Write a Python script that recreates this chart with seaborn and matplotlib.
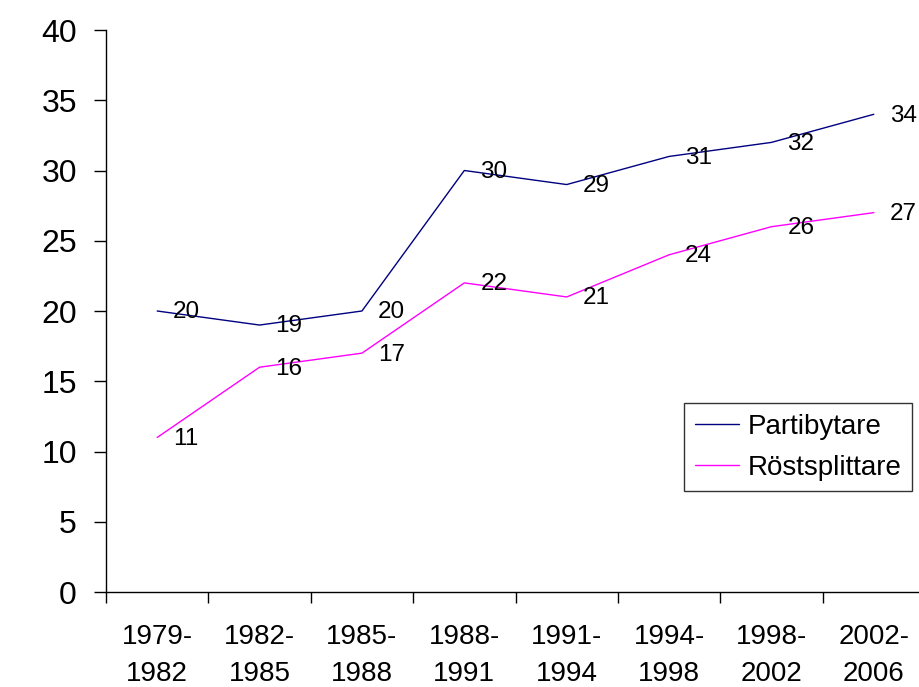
import pandas as pd
import matplotlib
matplotlib.use("Agg")
import matplotlib.pyplot as plt
import seaborn as sns

periods = ["1979-\n1982", "1982-\n1985", "1985-\n1988", "1988-\n1991",
           "1991-\n1994", "1994-\n1998", "1998-\n2002", "2002-\n2006"]
partibytare = [20, 19, 20, 30, 29, 31, 32, 34]
roststplittare = [11, 16, 17, 22, 21, 24, 26, 27]
series_names = ["Partibytare", "Röstsplittare"]
series_colors = ["#000080", "#FF00FF"]

df = pd.DataFrame({
    "idx": list(range(len(periods))) * 2,
    "value": partibytare + roststplittare,
    "serie": [series_names[0]] * len(periods) + [series_names[1]] * len(periods),
})

sns.set_style("white")
plt.rcParams['font.family'] = ['Liberation Sans', 'DejaVu Sans']
plt.rcParams['text.color'] = 'black'
plt.rcParams['xtick.color'] = 'black'
plt.rcParams['ytick.color'] = 'black'
plt.rcParams['xtick.labelcolor'] = 'black'
plt.rcParams['ytick.labelcolor'] = 'black'

fig = plt.figure(figsize=(9.19, 6.87), dpi=100)
ax = fig.add_axes([106 / 919, (687 - 592) / 687, 819 / 919, 562 / 687])

sns.lineplot(data=df, x="idx", y="value", hue="serie",
             palette=dict(zip(series_names, series_colors)),
             linewidth=1.0, ax=ax, legend=False)

# data labels right of each point
for vals in (partibytare, roststplittare):
    for i, v in enumerate(vals):
        ax.annotate(str(v), (i, v), xytext=(11.5, -1), textcoords="offset points",
                    ha="left", va="center", fontsize=17.5, color="black")

ax.set_xlim(-0.5, len(periods) - 0.5)
ax.set_ylim(0, 40)
ax.set_yticks(range(0, 41, 5))
ax.set_xticks(range(len(periods)))
ax.set_xticklabels(periods, linespacing=1.55)
ax.set_xticks([i - 0.5 for i in range(len(periods) + 1)], minor=True)
ax.tick_params(axis="x", which="major", bottom=True, length=0, pad=23, labelsize=20)
ax.tick_params(axis="x", which="minor", bottom=True, length=8, width=1, color="black", direction="out")
ax.tick_params(axis="y", left=True, length=9, width=1, color="black", direction="out", pad=12, labelsize=23)
ax.set_xlabel("")
ax.set_ylabel("")

for s in ("top", "right"):
    ax.spines[s].set_visible(False)
for s in ("left", "bottom"):
    ax.spines[s].set_color("black")
    ax.spines[s].set_linewidth(1)

handles = [plt.Line2D([], [], color=c, linewidth=1.0) for c in series_colors]
leg = ax.legend(handles, series_names, loc="upper left",
                bbox_to_anchor=(0.7057, 0.3363), borderaxespad=0,
                fontsize=20, frameon=True, fancybox=False, edgecolor="black",
                handlelength=1.6, handletextpad=0.3, labelspacing=0.55,
                borderpad=0.38)
leg.get_frame().set_linewidth(1)

fig.savefig("out.png", dpi=100)
